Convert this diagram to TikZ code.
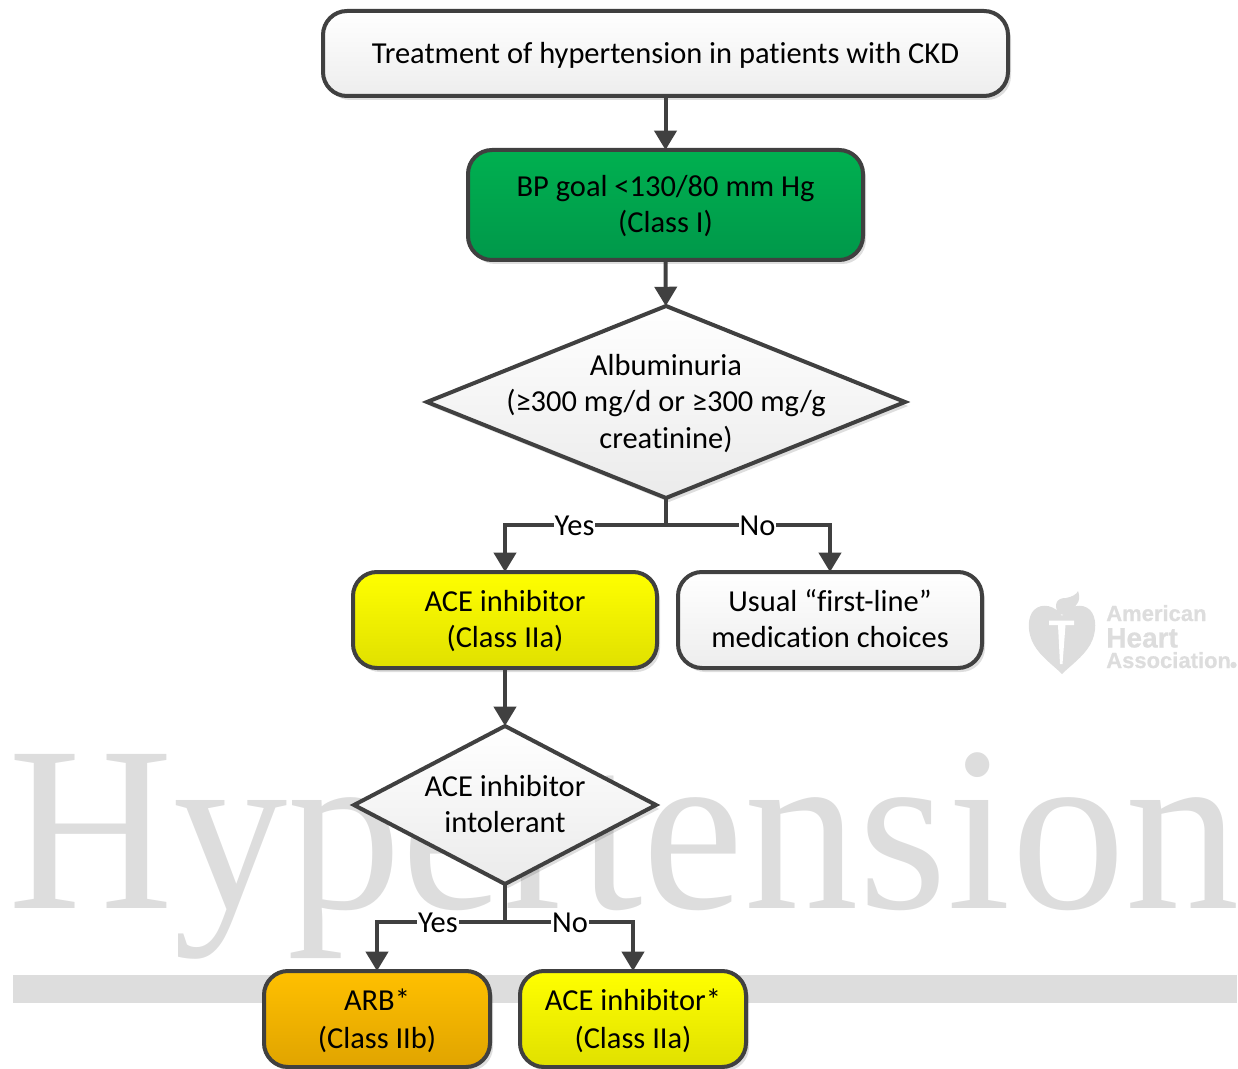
\documentclass[tikz,border=0pt]{standalone}
\usepackage{fontspec}
\setmainfont{Carlito}[Ligatures={NoCommon,TeX}]
\newfontfamily\wmfont{Liberation Serif}
\newfontfamily\logofont{Liberation Sans}[BoldFeatures={FakeBold=0.8}]
\usetikzlibrary{shapes.geometric,arrows.meta,shadows}
\newlength\pu \setlength\pu{0.75pt}
\newcommand\tl[2][0]{\raisebox{-#1\pu}[\height][\depth]{\begin{tabular}{@{}c@{}}#2\end{tabular}}}
\newcommand\lb[1]{\raisebox{-1\pu}[\height][\depth]{#1}}
\definecolor{ln}{HTML}{404040}
\definecolor{wm}{HTML}{DDDDDD}
\definecolor{gbt}{HTML}{00B050}
\definecolor{gbb}{HTML}{00984A}
\definecolor{ybb}{HTML}{E0E000}
\definecolor{obt}{HTML}{FFC000}
\definecolor{obb}{HTML}{E0A400}
\tikzset{
  softshadow/.style={general shadow={shadow xshift=3\pu,shadow yshift=-4\pu,fill=black,opacity=.13}},
  box/.style={draw=ln,line width=4\pu,rounded corners=24\pu,inner sep=0pt,outer sep=0pt,softshadow,text=black,font=\fontsize{22.85pt}{27.4pt}\selectfont},
  whitebox/.style={box,top color=white,bottom color=black!7},
  greenbox/.style={box,top color=gbt,bottom color=gbb},
  yellowbox/.style={box,top color=yellow,bottom color=ybb},
  orangebox/.style={box,top color=obt,bottom color=obb},
  decision/.style={diamond,draw=ln,line width=4\pu,inner sep=0pt,outer sep=0pt,top color=white,bottom color=black!8,softshadow},
  dtext/.style={inner sep=0pt,text=black,font=\fontsize{22.85pt}{27.4pt}\selectfont},
  conn/.style={draw=ln,line width=4\pu,-{Triangle[width=16.5pt,length=14.5pt]}},
  plain/.style={draw=ln,line width=4\pu},
  lbl/.style={fill=white,inner sep=1\pu,text=black,font=\fontsize{22.85pt}{27.4pt}\selectfont},
  logotext/.style={inner sep=0pt,anchor=base west,text=wm},
}
\begin{document}
\begin{tikzpicture}[x=0.75pt,y=-0.75pt]
\useasboundingbox (0,0) rectangle (1238,1069);
% watermark
\node[inner sep=0pt,anchor=base west,text=wm,yscale=1.03,font=\wmfont\fontsize{171.4pt}{171.4pt}\selectfont] (wmt) at (8,908) {Hypertension};
\fill[wm] (13,975) rectangle (1237,1003);
% logo
\fill[wm] (1062,616) .. controls (1056,606) and (1042,602) .. (1034,610) .. controls (1027,617) and (1027,633) .. (1034,645) .. controls (1041,657) and (1054,666) .. (1062,674) .. controls (1070,666) and (1083,657) .. (1090,645) .. controls (1097,633) and (1097,617) .. (1090,610) .. controls (1082,602) and (1068,606) .. (1062,616) -- cycle;
\fill[white] (1049,620.5) -- (1074,620.5) -- (1074,625) -- (1065.5,625) -- (1062.5,664) -- (1060,664) -- (1058,625) -- (1049,625) -- cycle;
\fill[wm] (1058,614) .. controls (1054,604) and (1056,598) .. (1066,598) .. controls (1072,597) and (1077,594) .. (1078,591) .. controls (1081,599) and (1078,606) .. (1071,609) .. controls (1068,610) and (1066,612) .. (1066,615) -- cycle;
\node[logotext,font=\logofont\bfseries\fontsize{16.5pt}{16.5pt}\selectfont] (aha1) at (1106,621) {American};
\node[logotext,font=\logofont\bfseries\fontsize{21pt}{21pt}\selectfont] (aha2) at (1106,647.5) {Heart};
\node[logotext,font=\logofont\bfseries\fontsize{16.5pt}{16.5pt}\selectfont] (aha3) at (1106,668) {Association};
\fill[wm] (1233.5,665) circle (3.2);
% nodes
\node[whitebox,minimum width=685\pu,minimum height=85\pu] (top) at (665.5,53.5) {\tl[3]{Treatment of hypertension in patients with CKD}};
\node[greenbox,minimum width=395\pu,minimum height=110\pu] (bp) at (665.5,205) {\tl[2]{BP goal <130/80 mm Hg\\(Class I)}};
\node[decision,minimum width=478\pu,minimum height=192\pu] (d1) at (666,402) {};
\node[dtext] (d1t) at (666,402) {\tl[2.5]{Albuminuria\\(≥300 mg/d or ≥300 mg/g\\creatinine)}};
\node[yellowbox,minimum width=304\pu,minimum height=96\pu] (ace) at (505,620) {\tl[2]{ACE inhibitor\\(Class IIa)}};
\node[whitebox,minimum width=304\pu,minimum height=96\pu] (usual) at (830,620) {\tl[2]{Usual “first-line”\\medication choices}};
\node[decision,minimum width=302\pu,minimum height=158\pu] (d2) at (505,805) {};
\node[dtext] (d2t) at (505,805) {\tl[2]{ACE inhibitor\\intolerant}};
\node[orangebox,minimum width=226\pu,minimum height=96\pu] (arb) at (377,1019) {\tl[3]{ARB*\\[1.5\pu](Class IIb)}};
\node[yellowbox,minimum width=226\pu,minimum height=96\pu] (ace2) at (633,1019) {\tl[3]{ACE inhibitor*\\[1.5\pu](Class IIa)}};
% junctions
\coordinate (j1) at (d1.south |- 0,525);
\coordinate (j2) at (d2.south |- 0,922);
% connectors
\draw[conn] (top) -- (bp);
\draw[conn] (bp) -- (d1);
\draw[plain] (d1.south) -- (j1);
\draw[conn] (j1) -| node[lbl,pos=.284] (yes1) {\lb{Yes}} (ace.north);
\draw[conn] (j1) -| node[lbl,pos=.279] (no1) {\lb{No}} (usual.north);
\draw[conn] (ace) -- (d2);
\draw[plain] (d2.south) -- (j2);
\draw[conn] (j2) -| node[lbl,pos=.262] (yes2) {\lb{Yes}} (arb.north);
\draw[conn] (j2) -| node[lbl,pos=.254] (no2) {\lb{No}} (ace2.north);
\end{tikzpicture}
\end{document}
